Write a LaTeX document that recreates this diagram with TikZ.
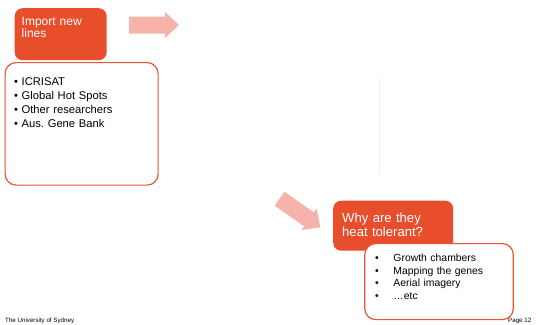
\documentclass[tikz,border=0pt]{standalone}
\usepackage{fontspec}
\setmainfont{Liberation Sans}
\usetikzlibrary{positioning}
\definecolor{titlered}{HTML}{E84E2C}
\definecolor{boxline}{HTML}{EC5434}
\definecolor{arrowpink}{HTML}{F6B3AA}
\definecolor{faintline}{HTML}{F3ECEE}

\tikzset{
  blockarrow/.pic={
    \fill[arrowpink] (-25,-8.5) -- (11,-8.5) -- (11,-13) -- (25,0)
      -- (11,13) -- (11,8.5) -- (-25,8.5) -- cycle;
  }
}

\begin{document}
\begin{tikzpicture}[x=1pt, y=-1pt,
    titlebox/.style={fill=titlered, rounded corners=8pt, inner sep=0pt, anchor=north west},
    listbox/.style={draw=boxline, line width=1.2pt, fill=white, rounded corners=11pt, inner sep=0pt, anchor=north west},
    titletext/.style={text=white, inner sep=0pt, anchor=base west, align=left, text width=120pt},
    listtext/.style={text=black, inner sep=0pt, anchor=base west, align=left, text width=140pt},
    foot/.style={inner sep=0pt, anchor=base west, font=\fontsize{6.2}{6.5}\selectfont}]
    \useasboundingbox (0,0) rectangle (546,324);

    % footer
    \node[foot] (uni) at (5,322.5) {The University of Sydney};
    \node[foot] (page) at (508,322.5) {Page 12};

    % first step
    \node[titlebox, minimum width=92pt, minimum height=52pt] (imp) at (14.5,8) {};
    \node[titletext, font=\fontsize{12}{11.6}\selectfont] (imptxt) at (21.5,25.7) {Import new\\lines};
    \node[listbox, minimum width=153pt, minimum height=122.5pt] (src) at (4.5,62) {};
    \node[listtext, font=\fontsize{11.2}{14.2}\selectfont] (srctxt) at (13.8,85)
        {• ICRISAT\\• Global Hot Spots\\• Other researchers\\• Aus.\ Gene Bank};

    \pic at (154,25) {blockarrow};
    \draw[faintline, line width=0.6pt] (379,78) coordinate (fl1) -- (379,175) coordinate (fl2);
    \pic[rotate=-35] at (300,213) {blockarrow};

    % second step
    \node[titlebox, minimum width=120pt, minimum height=50pt] (why) at (333,200.5) {};
    \node[titletext, font=\fontsize{13.1}{14.4}\selectfont] (whytxt) at (342,222.3) {Why are they\\heat tolerant?};
    \node[listbox, minimum width=148.5pt, minimum height=76pt] (how) at (364.2,243) {};
    \node[listtext, font=\fontsize{10.4}{12.8}\selectfont] (howtxt) at (374.8,261.3)
        {\makebox[18.5pt][l]{•}Growth chambers\\\makebox[18.5pt][l]{•}Mapping the genes\\
         \makebox[18.5pt][l]{•}Aerial imagery\\\makebox[18.5pt][l]{•}…etc};
\end{tikzpicture}
\end{document}
